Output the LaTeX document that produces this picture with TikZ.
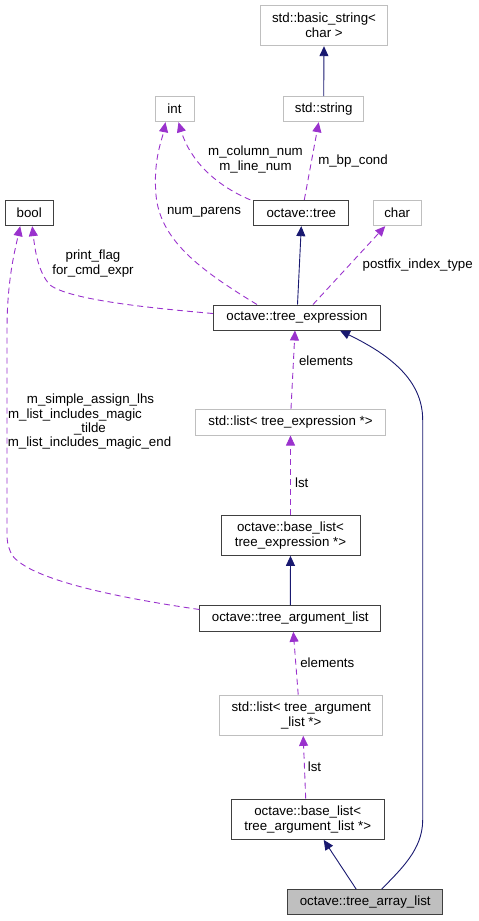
\documentclass[tikz,border=0pt]{standalone}
\usepackage{fontspec}
\setmainfont{Liberation Sans}
\usetikzlibrary{arrows.meta,calc}
\definecolor{navy}{HTML}{191970}
\definecolor{orch}{HTML}{9A32CD}
\definecolor{lgray}{HTML}{BFBFBF}
\definecolor{dgray}{HTML}{404040}
\tikzset{
  base/.style={rectangle,inner sep=0pt,align=center,font=\fontsize{13.3}{15}\selectfont,line width=1pt,fill=white},
  cls/.style={base,draw=dgray},
  ext/.style={base,draw=lgray},
  cur/.style={base,draw=dgray,fill=lgray},
  inh/.style={draw=navy,line width=0.9pt,-{Triangle[length=10pt,width=9pt]}},
  use/.style={draw=orch,line width=0.9pt,dash pattern=on 6pt off 4pt,-{Triangle[length=10pt,width=9pt,fill=orch]}},
  lbl/.style={font=\fontsize{13.3}{15}\selectfont,inner sep=0pt,align=center}
}
\begin{document}
\begin{tikzpicture}[x=1pt,y=-1pt]
\useasboundingbox (0,0) rectangle (479,921);
% nodes
\node[ext,minimum width=126.3pt,minimum height=40pt] (bs) at (324,25.7) {std::basic\_string<\\char >};
\node[ext,minimum width=39pt,minimum height=25pt] (int) at (174.5,109.2) {int};
\node[ext,minimum width=80pt,minimum height=25pt] (str) at (323.7,109.2) {std::string};
\node[cls,minimum width=48.3pt,minimum height=25.3pt] (bool) at (29.2,213) {bool};
\node[cls,minimum width=94.7pt,minimum height=25.3pt] (tree) at (301.3,213) {octave::tree};
\node[ext,minimum width=48.3pt,minimum height=25.3pt] (char) at (397.2,213) {char};
\node[cls,minimum width=167.3pt,minimum height=25pt] (te) at (297,317.5) {octave::tree\_expression};
\node[ext,minimum width=189.7pt,minimum height=25.7pt] (lte) at (290.5,422.2) {std::list< tree\_expression *>};
\node[cls,minimum width=139pt,minimum height=40.3pt] (blte) at (290.5,535.2) {octave::base\_list<\\ tree\_expression *>};
\node[cls,minimum width=180.7pt,minimum height=25.6pt] (tal) at (290.3,618.5) {octave::tree\_argument\_list};
\node[ext,minimum width=163pt,minimum height=40.3pt] (ltal) at (301.2,715.2) {std::list< tree\_argument\\\_list *>};
\node[cls,minimum width=152.7pt,minimum height=40.3pt] (btal) at (307.7,819.2) {octave::base\_list<\\ tree\_argument\_list *>};
\node[cur,minimum width=155pt,minimum height=25.3pt] (tarr) at (365.2,902.3) {octave::tree\_array\_list};
% edges
\draw[inh] (str.north) -- (bs.south);
\draw[use] ([xshift=-51pt]tree.north) .. controls (215,185) and (190,160) .. ([xshift=4pt]int.south);
\draw[use] ([xshift=-40pt]te.north) .. controls (200,270) and (160,240) .. (156,195) .. controls (153,160) and (162,140) .. ([xshift=-9pt]int.south);
\draw[use] ([xshift=3pt]tree.north) -- ([xshift=-5pt]str.south);
\draw[inh] ([xshift=0.5pt]te.north) -- (tree.south);
\draw[use] ([xshift=16pt]te.north) -- ([xshift=-12pt]char.south);
\draw[use] ([yshift=4pt]te.west) .. controls (150,308) and (70,300) .. (50,285) .. controls (38,272) and (35,250) .. ([xshift=3pt]bool.south);
\draw[use] ([yshift=9pt]tal.west) .. controls (120,598) and (30,580) .. (12,555) .. controls (7,545) and (7,540) .. (7,530) -- (7,330) .. controls (7,280) and (15,250) .. ([xshift=-9pt]bool.south);
\draw[use] ([xshift=0.5pt]lte.north) -- ([xshift=-2pt]te.south);
\draw[use] (blte.north) -- (lte.south);
\draw[inh] (tal.north) -- (blte.south);
\draw[use] ([xshift=-3pt]ltal.north) -- ([xshift=3pt]tal.south);
\draw[use] ([xshift=-2pt]btal.north) -- ([xshift=2pt]ltal.south);
\draw[inh] ([xshift=-9pt]tarr.north) -- ([xshift=16pt]btal.south);
\draw[inh] ([xshift=16.5pt]tarr.north) .. controls (400,870) and (422.7,850) .. (422.7,820) -- (422.7,420) .. controls (422.7,380) and (390,355) .. ([xshift=43pt]te.south);
% labels
\node[lbl] (l1) at (255.5,160) {m\_column\_num\\m\_line\_num};
\node[lbl] (l2) at (204,212.7) {num\_parens};
\node[lbl] (l3) at (353,161) {m\_bp\_cond};
\node[lbl] (l4) at (417.7,265) {postfix\_index\_type};
\node[lbl] (l5) at (93,264) {print\_flag\\for\_cmd\_expr};
\node[lbl] (l6a) at (90.5,400) {m\_simple\_assign\_lhs};
\node[lbl] (l6b) at (75,415) {m\_list\_includes\_magic};
\node[lbl] (l6c) at (90,428.5) {\_tilde};
\node[lbl] (l6d) at (89.5,443.3) {m\_list\_includes\_magic\_end};
\node[lbl] (l7) at (326,360.7) {elements};
\node[lbl] (l8) at (301.7,482.7) {lst};
\node[lbl] (l9) at (327.3,662.7) {elements};
\node[lbl] (l10) at (314.5,766.7) {lst};
\end{tikzpicture}
\end{document}
